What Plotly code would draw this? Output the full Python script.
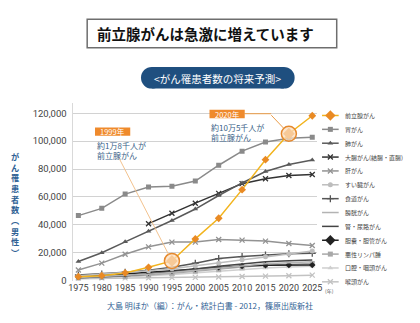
import plotly.graph_objects as go

# ---- data: projected cancer incidence, males ----
years = [1975, 1980, 1985, 1990, 1995, 2000, 2005, 2010, 2015, 2020, 2025]

prostate    = [2800, 3500, 5500, 9500, 14100, 29900, 44700, 65200, 86700, 105300, 118200]
stomach     = [46600, 51800, 62000, 67100, 67600, 71400, 82700, 92800, 99400, 102000, 102700]
lung        = [13700, 20000, 27800, 35300, 43100, 51300, 61000, 70000, 78200, 83200, 86400]
colorectal  = [None, None, None, 40800, 48300, 55500, 62500, 69500, 73000, 75400, 76100]
liver       = [7600, 12500, 18900, 24200, 27600, 27600, 29500, 29000, 28300, 26600, 25200]
pancreas    = [3500, 4500, 5500, 7000, 8500, 10500, 12500, 15000, 17000, 19000, 21200]
esophagus   = [4000, 4800, 6000, 7500, 9500, 12500, 15800, 17200, 18400, 19300, 19600]
bladder     = [2200, 2800, 3500, 4500, 5800, 7200, 8800, 10500, 12000, 13000, 13500]
kidney      = [2000, 2700, 3500, 4700, 6300, 8300, 10300, 12000, 13500, 14300, 14800]
gallbladder = [2500, 3500, 4500, 5800, 7000, 8300, 9500, 10500, 11000, 11200, 11100]
lymphoma    = [1700, 2300, 3000, 4000, 5200, 6800, 8200, 9800, 11000, 11800, 12300]
oral        = [1500, 2000, 2600, 3400, 4300, 5500, 6700, 8000, 9000, 9800, 10300]
larynx      = [1300, 1500, 1700, 1900, 2100, 2300, 2600, 2900, 3200, 3500, 3900]

y_ticks = [0, 20000, 40000, 60000, 80000, 100000, 120000]
x_ticks = years

# (legend label, values, line colour, marker symbol, marker size)
series = [
    ("前立腺がん",          prostate,    "#f2b41e", "diamond",     6),
    ("胃がん",              stomach,     "#8a8a8a", "square",      5),
    ("肺がん",              lung,        "#5a5a5a", "triangle-up", 5),
    ("大腸がん(結腸・直腸)", colorectal,  "#333333", "x-thin",      5),
    ("肝がん",              liver,       "#939393", "x-thin",      5),
    ("すい臓がん",          pancreas,    "#bdbdbd", "circle",      5),
    ("食道がん",            esophagus,   "#555555", "cross-thin",  5),
    ("膀胱がん",            bladder,     "#b3b3b3", None,          0),
    ("腎・尿路がん",        kidney,      "#444444", None,          0),
    ("胆嚢・胆管がん",      gallbladder, "#222222", "diamond",     5),
    ("悪性リンパ腫",        lymphoma,    "#a8a8a8", "square",      5),
    ("口腔・咽頭がん",      oral,        "#cfcfcf", "triangle-up", 5),
    ("喉頭がん",            larynx,      "#c2c2c2", "x-thin",      5),
]
legend_marker_size = {"前立腺がん": 8, "胆嚢・胆管がん": 8}
prostate_marker = "#e98a24"

W, H = 420, 323
PL, PR, PT, PB = 70, 320, 105, 285   # plot area edges in page pixels

fig = go.Figure()

def marker_for(name, color, symbol, size):
    if symbol is None:
        return dict(size=0, opacity=0)
    mcol = prostate_marker if name == "前立腺がん" else color
    m = dict(symbol=symbol, size=size, color=mcol)
    if symbol.endswith("-thin"):
        m["line"] = dict(color=mcol, width=1.3)
    return m

# lines drawn back-to-front so the major cancers sit on top
for name, vals, color, symbol, size in reversed(series):
    fig.add_trace(go.Scatter(
        x=years, y=vals, mode="lines+markers" if symbol else "lines",
        line=dict(color=color, width=1.5),
        marker=marker_for(name, color, symbol, size),
        connectgaps=False, showlegend=False, hoverinfo="skip",
        xaxis="x", yaxis="y"))

# highlighted prostate points (1995 and 2020)
hl_idx = [years.index(1995), years.index(2020)]
for i in hl_idx:
    fig.add_shape(type="circle", xref="x", yref="y",
                  xsizemode="pixel", ysizemode="pixel",
                  xanchor=years[i], yanchor=prostate[i],
                  x0=-7.5, x1=7.5, y0=-7.5, y1=7.5,
                  line=dict(color="#e5892e", width=1.5),
                  fillcolor="rgba(251,222,190,0.75)", layer="above")
fig.add_trace(go.Scatter(
    x=[years[i] for i in hl_idx], y=[prostate[i] for i in hl_idx],
    mode="markers", marker=dict(symbol="diamond", size=9, color=prostate_marker),
    showlegend=False, hoverinfo="skip", xaxis="x", yaxis="y"))

# leader lines from the callouts to the highlighted points
fig.add_annotation(x=1995, y=prostate[hl_idx[0]], xref="x", yref="y",
                   text="", showarrow=True, arrowhead=0, arrowwidth=1,
                   arrowcolor="#f3c38f", ax=-54, ay=-105, standoff=7.5)
fig.add_annotation(x=2020, y=prostate[hl_idx[1]], xref="x", yref="y",
                   text="", showarrow=True, arrowhead=0, arrowwidth=1,
                   arrowcolor="#eb9c47", ax=-19, ay=-20, standoff=7.5)
fig.add_shape(type="line", xref="x2", yref="y2", x0=246, x1=273, y0=115.5, y1=115.5,
              line=dict(color="#eb9c47", width=1))

# callout boxes
blue_txt = "#3a5f88"
for (bx0, by0, bx1, by1, label, lines) in [
        (93, 129.5, 129, 138, "1999年", ["約1万8千人が", "前立腺がん"]),
        (210, 111.5, 246, 120, "2020年", ["約10万5千人が", "前立腺がん"])]:
    fig.add_shape(type="rect", xref="x2", yref="y2", x0=bx0, x1=bx1, y0=by0, y1=by1,
                  fillcolor="#ef8a2c", line=dict(width=0))
    fig.add_annotation(x=(bx0 + bx1) / 2, y=(by0 + by1) / 2 + 0.3, xref="x2", yref="y2",
                       text=label, showarrow=False,
                       font=dict(family="Noto Sans CJK JP", size=7.5, color="white"))
    fig.add_annotation(x=bx0 - 0.5, y=by1 + 2, xref="x2", yref="y2",
                       text="<br>".join(lines), showarrow=False,
                       xanchor="left", yanchor="top", align="left",
                       font=dict(family="Noto Sans CJK JP", size=8, color=blue_txt))

# ---- title box ----
fig.add_shape(type="rect", xref="x2", yref="y2", x0=85, x1=340, y0=19.5, y1=48.5,
              fillcolor="white", line=dict(color="#6e6e6e", width=1.5))
fig.add_annotation(x=206, y=34.5, xref="x2", yref="y2", text="<b>前立腺がんは急激に増えています</b>",
                   showarrow=False, font=dict(family="Noto Sans CJK JP", size=14.5, color="#111111"))

# ---- pill heading ----
pill = "#1f4f7f"
fig.add_shape(type="rect", xref="x2", yref="y2", x0=151, x1=286, y0=68, y1=90,
              fillcolor=pill, line=dict(width=0))
for cx in (151, 286):
    fig.add_shape(type="circle", xref="x2", yref="y2", x0=cx - 11, x1=cx + 11, y0=68, y1=90,
                  fillcolor=pill, line=dict(width=0))
fig.add_annotation(x=218.5, y=79.5, xref="x2", yref="y2", text="<がん罹患者数の将来予測>",
                   showarrow=False, font=dict(family="Noto Sans CJK JP", size=10.5, color="white"))

# ---- vertical y-axis title, one upright character per line ----
ytitle_chars = ["が", "ん", "罹", "患", "者", "数", "︵", "男", "性", "︶"]
fig.add_annotation(x=12, y=207, xref="x2", yref="y2",
                   text="<b>" + "<br>".join(ytitle_chars) + "</b>",
                   showarrow=False, align="center",
                   font=dict(family="Noto Sans CJK JP", size=8.2, color="#2f6194"))

# ---- year unit & source ----
fig.add_annotation(x=326, y=295.5, xref="x2", yref="y2", text="(年)", showarrow=False,
                   xanchor="left", font=dict(family="Noto Sans CJK JP", size=5, color="#555555"))
fig.add_annotation(x=210, y=310, xref="x2", yref="y2",
                   text="大島 明ほか（編）：がん・統計白書 - 2012，篠原出版新社",
                   showarrow=False, font=dict(family="Noto Sans CJK JP", size=8, color="#2f6194"))

# ---- legend (drawn on the overlay axes) ----
lx0, lx1, ltxt = 325, 342, 346
ly0, lstep = 117.3, 14.08
for k, (name, vals, color, symbol, size) in enumerate(series):
    yy = ly0 + lstep * k
    fig.add_trace(go.Scatter(x=[lx0, lx1], y=[yy, yy], mode="lines",
                             line=dict(color=color, width=1.5),
                             showlegend=False, hoverinfo="skip", xaxis="x2", yaxis="y2"))
    if symbol:
        fig.add_trace(go.Scatter(
            x=[(lx0 + lx1) / 2], y=[yy], mode="markers",
            marker=marker_for(name, color, symbol, legend_marker_size.get(name, 5)),
            showlegend=False, hoverinfo="skip", xaxis="x2", yaxis="y2"))
    fig.add_annotation(x=ltxt, y=yy, xref="x2", yref="y2", text=name, showarrow=False,
                       xanchor="left",
                       font=dict(family="Noto Sans CJK JP", size=6, color="#444444"))

# ---- axes ----
px_per_year = (PR - PL) / 52.3
x_left = 1975 - (76 - PL) / px_per_year
x_right = x_left + (PR - PL) / px_per_year
y_top = (PB - PT) / (PB - 115) * 120000

fig.update_layout(
    width=W, height=H, margin=dict(l=0, r=0, t=0, b=0),
    paper_bgcolor="white", plot_bgcolor="rgba(0,0,0,0)",
    xaxis=dict(domain=[PL / W, PR / W], range=[x_left, x_right],
               tickvals=x_ticks, ticktext=[str(v) for v in x_ticks],
               showgrid=False, zeroline=False, showline=False, ticks="",
               tickfont=dict(family="Roboto", size=9, color="#444444"), anchor="y"),
    yaxis=dict(domain=[(H - PB) / H, (H - PT) / H], range=[0, y_top],
               tickvals=y_ticks, ticktext=[f"{v:,}" for v in y_ticks],
               showgrid=True, gridcolor="#d2d2d2", gridwidth=1,
               zeroline=False, showline=True, linecolor="#d9d9d9", linewidth=1,
               ticks="", ticklabelstandoff=3,
               tickfont=dict(family="Roboto", size=9.5, color="#444444"), anchor="x"),
    xaxis2=dict(domain=[0, 1], range=[0, W], visible=False, fixedrange=True, anchor="y2"),
    yaxis2=dict(domain=[0, 1], range=[H, 0], visible=False, fixedrange=True, anchor="x2"),
)

fig.write_html("out.html")
